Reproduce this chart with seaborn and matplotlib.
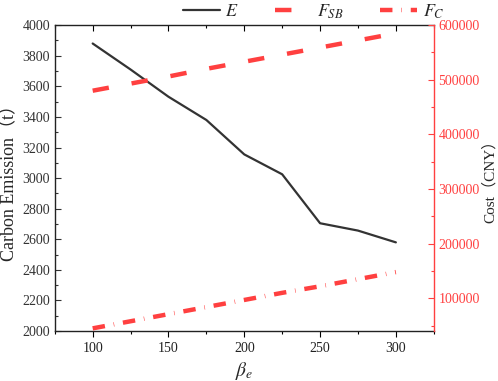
import matplotlib
matplotlib.use("Agg")
import matplotlib.pyplot as plt
import seaborn as sns
import pandas as pd
from matplotlib.ticker import MultipleLocator

beta = [100, 125, 150, 175, 200, 225, 250, 275, 300]
emission = [3880, 3710, 3532, 3380, 3155, 3025, 2705, 2657, 2580]
cost_sb = [480000, 493000, 506000, 520000, 533000, 546000, 559000, 572000, 585000]
cost_c = [45000, 58000, 71000, 84000, 97000, 110000, 122000, 135000, 148000]

df = pd.DataFrame({"beta": beta, "E": emission, "FSB": cost_sb, "FC": cost_c})

sns.set_style("ticks")
plt.rcParams["font.family"] = ["Liberation Serif", "Noto Sans CJK SC", "DejaVu Sans"]
plt.rcParams["mathtext.fontset"] = "stix"

RED = "#FF4040"
DARK = "#333333"

fig = plt.figure(figsize=(4.98, 3.81), dpi=100)
ax = fig.add_axes([0.110, 0.131, 0.761, 0.803])
ax2 = ax.twinx()

sns.lineplot(data=df, x="beta", y="E", ax=ax, color=DARK, lw=1.6, label="$E$", legend=False)
sns.lineplot(data=df, x="beta", y="FSB", ax=ax2, color=RED, lw=3.2, label="$F_{SB}$", legend=False)
sns.lineplot(data=df, x="beta", y="FC", ax=ax2, color=RED, lw=3.2, label="$F_C$", legend=False)
ax2.lines[0].set_dashes((3.7, 5.2))
ax2.lines[1].set_dashes((2.8, 2.0, 0.12, 2.0))

ax.set_xlim(75, 325)
ax.set_ylim(2000, 4000)
ax2.set_ylim(40000, 600000)

ax.xaxis.set_major_locator(MultipleLocator(50))
ax.xaxis.set_minor_locator(MultipleLocator(25))
ax.yaxis.set_major_locator(MultipleLocator(200))
ax.yaxis.set_minor_locator(MultipleLocator(100))
ax2.yaxis.set_major_locator(MultipleLocator(100000))
ax2.yaxis.set_minor_locator(MultipleLocator(50000))

ax.tick_params(axis="x", which="both", direction="out", top=True, labelsize=10, color="black")
ax.tick_params(axis="x", which="major", length=4, width=0.8)
ax.tick_params(axis="x", which="minor", length=2.5, width=0.8)
ax.tick_params(axis="y", which="both", direction="in", labelsize=10, colors="#333333")
ax.tick_params(axis="y", which="major", length=4, width=0.8)
ax.tick_params(axis="y", which="minor", length=2.5, width=0.8)
ax.tick_params(axis="x", labelcolor="#222222")

ax2.tick_params(axis="y", which="both", direction="in", colors=RED, labelsize=10)
ax2.tick_params(axis="y", which="major", length=4, width=0.8)
ax2.tick_params(axis="y", which="minor", length=2.5, width=0.8)

for s in ["top", "bottom", "left"]:
    ax2.spines[s].set_visible(False)
for s in ["top", "bottom", "left"]:
    ax.spines[s].set_color("#222222")
    ax.spines[s].set_linewidth(1.0)
ax.spines["right"].set_visible(False)
ax2.spines["right"].set_color(RED)
ax2.spines["right"].set_linewidth(1.0)

# top ticks pointing inward
for t in ax.xaxis.get_major_ticks() + ax.xaxis.get_minor_ticks():
    t.tick2line.set_marker(3)

ax.set_xlabel(r"$\beta_e$", fontsize=14, labelpad=4)
ax.set_ylabel("Carbon Emission（t）", fontsize=13, labelpad=3)
ax2.set_ylabel("Cost（CNY）", fontsize=11, labelpad=2)

handles = ax.lines[:1] + ax2.lines[:2]
labels = ["$E$", "$F_{SB}$", "$F_C$"]
fig.legend(handles, labels, loc="upper center", bbox_to_anchor=(0.63, 1.037), ncol=3,
           frameon=False, fontsize=13, handlelength=2.05, handletextpad=0.3, columnspacing=2.0)

fig.savefig("out.png", dpi=100)
